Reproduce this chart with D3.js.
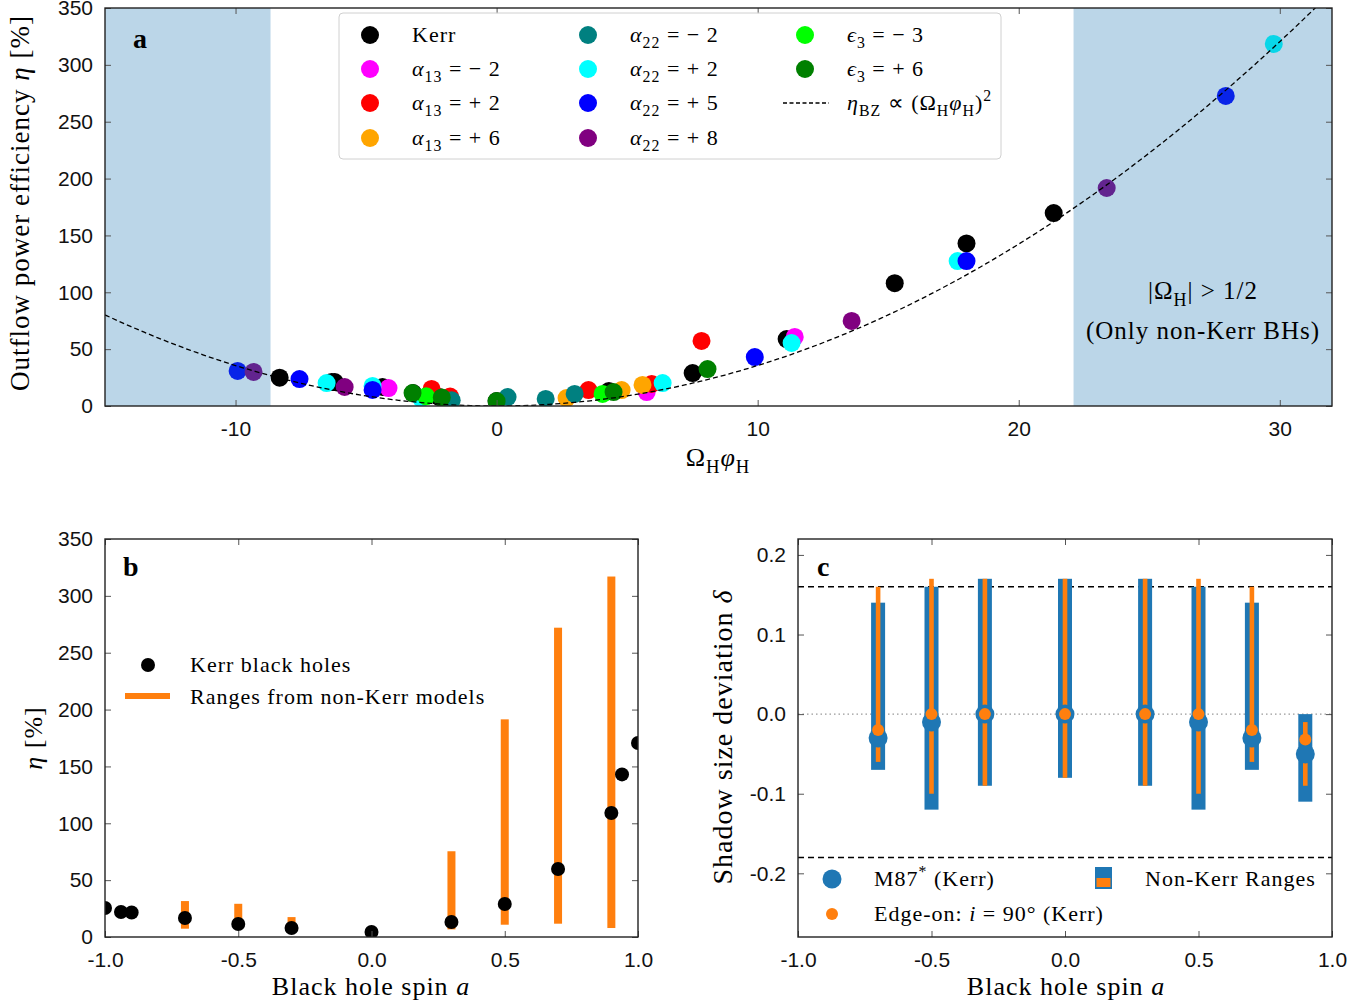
<html>
<head>
<meta charset="utf-8">
<script src="https://d3js.org/d3.v7.min.js"></script>
<style>
  body { margin: 0; background: #fff; }
  svg { font-family: "Liberation Serif", "Times New Roman", serif; }
  .lab { letter-spacing: 1px; }
  .tick text { font-size: 21px; fill: #111; }
  .tick line { stroke: #555; }
  .domain { display: none; }
</style>
</head>
<body>
<div id="chart"></div>
<script>
// ---------- panel a : outflow efficiency vs Omega_H phi_H ----------
var kerrA      = [[-8.31,24.9],[-6.32,21.1],[-6.2,21.0],[-4.37,16.7],[-3.2,11.4],[-2.2,7.9],[0.0,4.4],[4.3,13.2],[7.51,29.0],[11.11,58.9],[15.25,108],[18.0,143],[21.34,169.7]];
var alpha13m2  = [[-4.14,15.8],[5.75,12.3],[11.42,60.7]];
var alpha13p2  = [[-2.49,15.0],[-1.78,8.3],[3.52,14.0],[5.94,19.4],[7.85,57.2]];
var alpha13p6  = [[2.68,7.0],[4.79,14.0],[5.59,18.5]];
var alpha22m2  = [[-1.72,5.0],[0.42,7.9],[1.88,6.2],[2.99,10.6]];
var alpha22p2  = [[-6.51,20.2],[-4.75,17.6],[-2.9,7.0],[6.36,20.2],[11.3,55.4],[17.66,127.5],[29.77,318.4]];
var alpha22p5  = [[-9.92,30.8],[-7.55,23.7],[-4.75,14.1],[9.89,43.0],[18.0,127.5],[27.93,272.7]];
var alpha22p8  = [[-9.31,30.0],[-5.82,16.7],[13.6,74.8],[23.37,191.7]];
var eps3m3     = [[-2.7,8.5],[4.06,10.6]];
var eps3p6     = [[-3.22,11.4],[-2.1,7.5],[0.0,4.4],[4.48,12.3],[8.08,32.5]];

var seriesA      = [kerrA, alpha13m2, alpha13p2, alpha13p6, alpha22m2, alpha22p2, alpha22p5, alpha22p8, eps3m3, eps3p6];
var seriesColors = ["#000000","#ff00ff","#ff0000","#ffa500","#008080","#00ffff","#0000ff","#800080","#00ff00","#008000"];
var bzCoef = 0.356;            // eta_BZ = k (Omega_H phi_H)^2
var spanLeft = -8.66, spanRight = 22.1;
var xTicksA = [-10, 0, 10, 20, 30];
var yTicksA = [0, 50, 100, 150, 200, 250, 300, 350];

// ---------- panel b : eta vs spin ----------
var spinB      = [-1.0,-0.94,-0.9,-0.7,-0.5,-0.3,0.0,0.3,0.5,0.7,0.9,0.94,1.0];
var etaKerrB   = [25.5,22,21.5,16.7,11.4,7.9,4.4,13.2,29,59.8,109,143,170.6];
var rangeSpinB = [-0.7,-0.5,-0.3,0.3,0.5,0.7,0.9];
var rangeLoB   = [7.3,10,6,6.7,10.8,11.7,7.9];
var rangeHiB   = [31.6,29.2,17.5,75.4,191.4,272,317];

// ---------- panel c : shadow size deviation ----------
var spinC     = [-0.7,-0.5,-0.3,0,0.3,0.5,0.7,0.9];
var m87Delta  = [-0.03,-0.01,0,0,0,-0.01,-0.03,-0.05];
var m87Lo     = [-0.07,-0.12,-0.09,-0.08,-0.09,-0.12,-0.07,-0.11];
var m87Hi     = [0.14,0.16,0.17,0.17,0.17,0.16,0.14,0.0];
var edgeDelta = [-0.02,0,0,0,0,0,-0.02,-0.032];
var edgeLo    = [-0.06,-0.10,-0.09,-0.08,-0.09,-0.10,-0.06,-0.09];
var edgeHi    = [0.16,0.17,0.17,0.17,0.17,0.17,0.16,-0.01];
var deltaBounds = [0.16, -0.18];
var spinTicks = [-1.0,-0.5,0.0,0.5,1.0];
var yTicksC = [-0.2,-0.1,0.0,0.1,0.2];

var C0 = "#1f77b4", C1 = "#ff7f0e";

var svg = d3.select("#chart").append("svg")
  .attr("width", 1369).attr("height", 1003);

// rich text: parts = [[string, mode]] ; mode '' roman, 'i' italic, 's' sub, 'p' sup
function rich(sel, parts, fs) {
  var shift = 0;
  sel.attr("class", "lab");
  parts.forEach(function(p) {
    var m = p[1] || "";
    var want = m.indexOf("s") >= 0 ? 0.28 * fs : (m.indexOf("p") >= 0 ? -0.42 * fs : 0);
    var ts = sel.append("tspan").text(p[0]);
    if (want - shift !== 0) ts.attr("dy", (want - shift));
    shift = want;
    if (m.indexOf("i") >= 0) ts.style("font-style", "italic");
    if (want !== 0) ts.style("font-size", (0.72 * fs) + "px");
  });
  return sel;
}

function frame(g, box, x, y, xt, yt, xf, yf, name) {
  g.append("g").attr("transform", `translate(0,${box.b})`)
    .call(d3.axisBottom(x).tickValues(xt).tickFormat(xf).tickSizeInner(-6).tickSizeOuter(0).tickPadding(15));
  g.append("g").attr("transform", `translate(0,${box.t})`)
    .call(d3.axisTop(x).tickValues(xt).tickFormat("").tickSizeInner(-6).tickSizeOuter(0));
  g.append("g").attr("transform", `translate(${box.l},0)`)
    .call(d3.axisLeft(y).tickValues(yt).tickFormat(yf).tickSizeInner(-6).tickSizeOuter(0).tickPadding(12));
  g.append("g").attr("transform", `translate(${box.r},0)`)
    .call(d3.axisRight(y).tickValues(yt).tickFormat("").tickSizeInner(-6).tickSizeOuter(0));
  g.append("rect").attr("x", box.l).attr("y", box.t)
    .attr("width", box.r - box.l).attr("height", box.b - box.t)
    .attr("fill", "none").attr("stroke", "#222").attr("stroke-width", 1.4);
  svg.append("clipPath").attr("id", name).append("rect")
    .attr("x", box.l).attr("y", box.t).attr("width", box.r - box.l).attr("height", box.b - box.t);
}

/* ================= panel a ================= */
var boxA = {l:105, r:1332, t:8, b:406};
var xA = d3.scaleLinear().domain([-15, 32]).range([boxA.l, boxA.r]);
var yA = d3.scaleLinear().domain([0, 350]).range([boxA.b, boxA.t]);
var gA = svg.append("g");
var plotA = gA.append("g").attr("clip-path", "url(#clipA)");

seriesA.forEach(function(s, i) {
  plotA.append("g").selectAll("circle").data(s).enter().append("circle")
    .attr("cx", d => xA(d[0])).attr("cy", d => yA(d[1])).attr("r", 9)
    .attr("fill", seriesColors[i]);
});
plotA.append("rect").attr("x", xA(-15)).attr("y", yA(350))
  .attr("width", xA(spanLeft) - xA(-15)).attr("height", yA(0) - yA(350))
  .attr("fill", C0).attr("opacity", 0.3);
plotA.append("rect").attr("x", xA(spanRight)).attr("y", yA(350))
  .attr("width", xA(32) - xA(spanRight)).attr("height", yA(0) - yA(350))
  .attr("fill", C0).attr("opacity", 0.3);

var curve = d3.range(-15, 32.01, 0.25).map(v => [v, bzCoef * v * v]);
plotA.append("path").datum(curve)
  .attr("d", d3.line().x(d => xA(d[0])).y(d => yA(d[1])))
  .attr("fill", "none").attr("stroke", "#000").attr("stroke-width", 1.3)
  .attr("stroke-dasharray", "5,3");

frame(gA, boxA, xA, yA, xTicksA, yTicksA, d => String(d), d => String(d), "clipA");

// legend a
var legA = gA.append("g");
legA.append("rect").attr("x", 339).attr("y", 13).attr("width", 662).attr("height", 146)
  .attr("rx", 4).attr("fill", "#fff").attr("fill-opacity", 0.85).attr("stroke", "#d0d0d0");
var legLabels = [
  [["Kerr",""]],
  [["α","i"],["13","s"],[" = − 2",""]],
  [["α","i"],["13","s"],[" = + 2",""]],
  [["α","i"],["13","s"],[" = + 6",""]],
  [["α","i"],["22","s"],[" = − 2",""]],
  [["α","i"],["22","s"],[" = + 2",""]],
  [["α","i"],["22","s"],[" = + 5",""]],
  [["α","i"],["22","s"],[" = + 8",""]],
  [["ϵ","i"],["3","s"],[" = − 3",""]],
  [["ϵ","i"],["3","s"],[" = + 6",""]]
];
var colX = [370, 588, 805], rowY = [35, 69, 103, 138];
legLabels.forEach(function(lab, i) {
  var c = i < 4 ? 0 : (i < 8 ? 1 : 2), r = i < 4 ? i : (i < 8 ? i - 4 : i - 8);
  legA.append("circle").attr("cx", colX[c]).attr("cy", rowY[r]).attr("r", 9).attr("fill", seriesColors[i]);
  var t = legA.append("text").attr("x", colX[c] + 42).attr("y", rowY[r] + 7).style("font-size", "22px");
  rich(t, lab, 22);
});
legA.append("line").attr("x1", 783).attr("x2", 829).attr("y1", 103).attr("y2", 103)
  .attr("stroke", "#000").attr("stroke-width", 1.3).attr("stroke-dasharray", "4,2.5");
rich(legA.append("text").attr("x", 847).attr("y", 110).style("font-size", "22px"),
  [["η","i"],["BZ","s"],[" ∝ (Ω",""],["H","s"],["φ","i"],["H","s"],[")",""],["2","p"]], 22);

gA.append("text").attr("x", 133).attr("y", 48).style("font-size", "28px").style("font-weight", "bold").text("a");
rich(gA.append("text").attr("x", 1203).attr("y", 299).attr("text-anchor", "middle").style("font-size", "25px"),
  [["|Ω",""],["H","s"],["| > 1/2",""]], 25);
rich(gA.append("text").attr("x", 1203).attr("y", 339).attr("text-anchor", "middle").style("font-size", "25px"),
  [["(Only non-Kerr BHs)",""]], 25);
rich(gA.append("text").attr("transform", "translate(29,203) rotate(-90)").attr("text-anchor", "middle").style("font-size", "27px"),
  [["Outflow power efficiency ",""],["η","i"],[" [%]",""]], 27);
rich(gA.append("text").attr("x", 718).attr("y", 466).attr("text-anchor", "middle").style("font-size", "26px"),
  [["Ω",""],["H","s"],["φ","i"],["H","s"]], 26);

/* ================= panel b ================= */
var boxB = {l:105, r:638, t:539, b:937};
var xB = d3.scaleLinear().domain([-1, 1]).range([boxB.l, boxB.r]);
var yB = d3.scaleLinear().domain([0, 350]).range([boxB.b, boxB.t]);
var gB = svg.append("g");
var plotB = gB.append("g").attr("clip-path", "url(#clipB)");
plotB.selectAll("rect.rng").data(rangeSpinB).enter().append("rect")
  .attr("x", d => xB(d) - 4).attr("width", 8)
  .attr("y", (d, i) => yB(rangeHiB[i])).attr("height", (d, i) => yB(rangeLoB[i]) - yB(rangeHiB[i]))
  .attr("fill", C1);
plotB.selectAll("circle").data(spinB).enter().append("circle")
  .attr("cx", d => xB(d)).attr("cy", (d, i) => yB(etaKerrB[i])).attr("r", 7).attr("fill", "#000");
frame(gB, boxB, xB, yB, spinTicks, yTicksA, d => d.toFixed(1), d => String(d), "clipB");

gB.append("circle").attr("cx", 148).attr("cy", 665).attr("r", 7).attr("fill", "#000");
rich(gB.append("text").attr("x", 190).attr("y", 672).style("font-size", "22px"), [["Kerr black holes",""]], 22);
gB.append("line").attr("x1", 125).attr("x2", 170).attr("y1", 696).attr("y2", 696)
  .attr("stroke", C1).attr("stroke-width", 6);
rich(gB.append("text").attr("x", 190).attr("y", 704).style("font-size", "22px"), [["Ranges from non-Kerr models",""]], 22);
gB.append("text").attr("x", 123).attr("y", 576).style("font-size", "28px").style("font-weight", "bold").text("b");
rich(gB.append("text").attr("transform", "translate(42,738) rotate(-90)").attr("text-anchor", "middle").style("font-size", "26px"),
  [["η","i"],[" [%]",""]], 26);
rich(gB.append("text").attr("x", 371).attr("y", 995).attr("text-anchor", "middle").style("font-size", "26px"),
  [["Black hole spin ",""],["a","i"]], 26);

/* ================= panel c ================= */
var boxC = {l:798, r:1332, t:539, b:937};
var xC = d3.scaleLinear().domain([-1, 1]).range([boxC.l, boxC.r]);
var yC = d3.scaleLinear().domain([-0.28, 0.22]).range([boxC.b, boxC.t]);
var gC = svg.append("g");
var plotC = gC.append("g").attr("clip-path", "url(#clipC)");
plotC.append("line").attr("x1", boxC.l).attr("x2", boxC.r).attr("y1", yC(0)).attr("y2", yC(0))
  .attr("stroke", "#999").attr("stroke-width", 1.2).attr("stroke-dasharray", "1.5,3");
deltaBounds.forEach(function(v) {
  plotC.append("line").attr("x1", boxC.l).attr("x2", boxC.r).attr("y1", yC(v)).attr("y2", yC(v))
    .attr("stroke", "#000").attr("stroke-width", 1.5).attr("stroke-dasharray", "6,4");
});
plotC.selectAll("rect.m87").data(spinC).enter().append("rect")
  .attr("x", d => xC(d) - 7).attr("width", 14)
  .attr("y", (d, i) => yC(m87Hi[i])).attr("height", (d, i) => yC(m87Lo[i]) - yC(m87Hi[i]))
  .attr("fill", C0);
plotC.selectAll("rect.edge").data(spinC).enter().append("rect")
  .attr("x", d => xC(d) - 2.3).attr("width", 4.6)
  .attr("y", (d, i) => yC(edgeHi[i])).attr("height", (d, i) => yC(edgeLo[i]) - yC(edgeHi[i]))
  .attr("fill", C1);
plotC.selectAll("circle.m87").data(spinC).enter().append("circle")
  .attr("cx", d => xC(d)).attr("cy", (d, i) => yC(m87Delta[i])).attr("r", 9.5).attr("fill", C0);
plotC.selectAll("circle.edge").data(spinC).enter().append("circle")
  .attr("cx", d => xC(d)).attr("cy", (d, i) => yC(edgeDelta[i])).attr("r", 6).attr("fill", C1);
frame(gC, boxC, xC, yC, spinTicks, yTicksC, d => d.toFixed(1), d => d.toFixed(1), "clipC");

gC.append("circle").attr("cx", 832).attr("cy", 879).attr("r", 9.5).attr("fill", C0);
rich(gC.append("text").attr("x", 874).attr("y", 886).style("font-size", "22px"),
  [["M87",""],["*","p"],["  (Kerr)",""]], 22);
gC.append("rect").attr("x", 1095).attr("y", 867).attr("width", 17).attr("height", 22).attr("fill", C0);
gC.append("rect").attr("x", 1096.5).attr("y", 878).attr("width", 14).attr("height", 9).attr("fill", C1);
rich(gC.append("text").attr("x", 1145).attr("y", 886).style("font-size", "22px"), [["Non-Kerr Ranges",""]], 22);
gC.append("circle").attr("cx", 832).attr("cy", 914).attr("r", 6).attr("fill", C1);
rich(gC.append("text").attr("x", 874).attr("y", 921).style("font-size", "22px"),
  [["Edge-on: ",""],["i","i"],[" = 90° (Kerr)",""]], 22);
gC.append("text").attr("x", 817).attr("y", 576).style("font-size", "28px").style("font-weight", "bold").text("c");
rich(gC.append("text").attr("transform", "translate(732,737) rotate(-90)").attr("text-anchor", "middle").style("font-size", "28px"),
  [["Shadow size deviation ",""],["δ","i"]], 28);
rich(gC.append("text").attr("x", 1066).attr("y", 995).attr("text-anchor", "middle").style("font-size", "26px"),
  [["Black hole spin ",""],["a","i"]], 26);
</script>
</body>
</html>
